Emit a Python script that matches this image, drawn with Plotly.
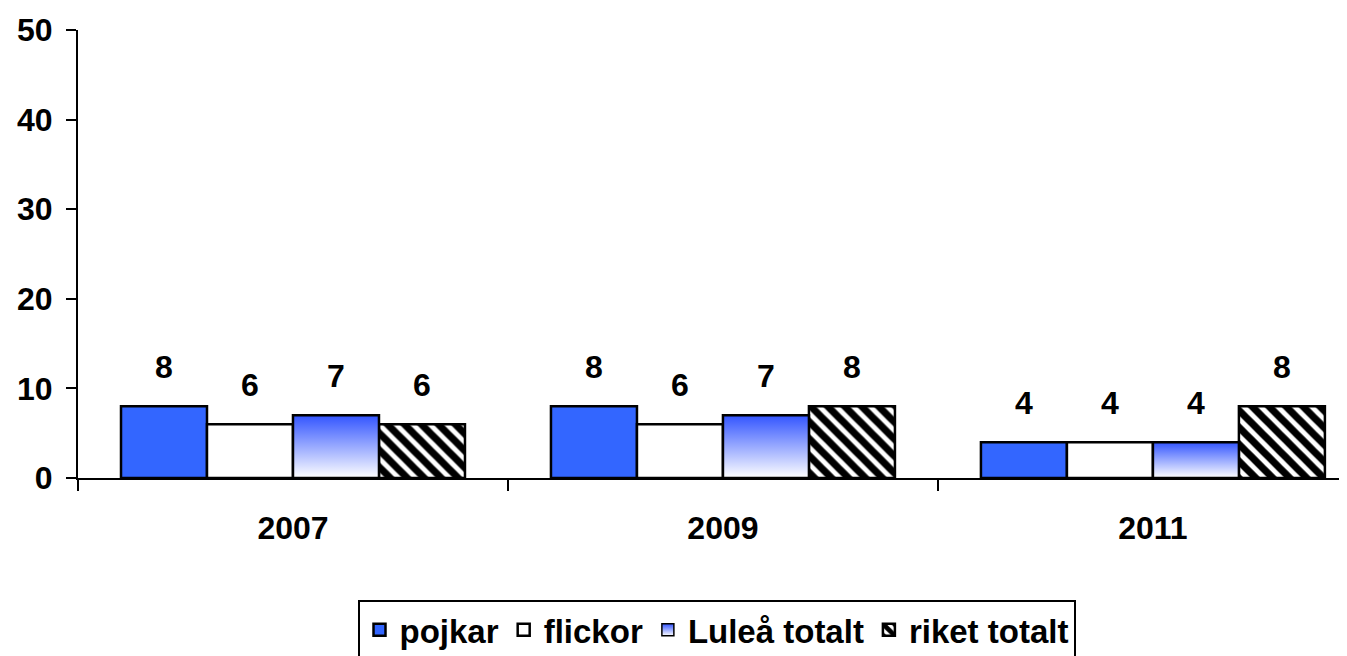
import plotly.graph_objects as go

years = ["2007", "2009", "2011"]
series_names = ["pojkar", "flickor", "Luleå totalt", "riket totalt"]
pojkar = [8, 8, 4]
flickor = [6, 6, 4]
lulea_totalt = [7, 7, 4]
riket_totalt = [6, 8, 8]
y_ticks = [0, 10, 20, 30, 40, 50]

all_series = [pojkar, flickor, lulea_totalt, riket_totalt]
xs = list(range(len(years)))
n = len(all_series)
group = 0.8
bw = group / n
offsets = [-group / 2 + bw * (i + 0.5) for i in range(n)]

FONT = "Liberation Sans, Arial, sans-serif"
BLUE = "#3366FF"
GRAD_TOP = "#3355FF"
LINE = dict(color="black", width=2.5)

fig = go.Figure()

fig.add_trace(go.Bar(x=xs, y=pojkar, name=series_names[0], marker=dict(color=BLUE, line=LINE), legendrank=1))
fig.add_trace(go.Bar(x=xs, y=flickor, name=series_names[1], marker=dict(color="white", line=LINE), legendrank=2))
fig.add_trace(go.Bar(x=xs, y=lulea_totalt, name=series_names[2],
                     marker=dict(color="rgba(0,0,0,0)", line=dict(width=0)), showlegend=False))
fig.add_trace(go.Bar(x=xs, y=riket_totalt, name=series_names[3], legendrank=4,
                     marker=dict(color="white", line=LINE,
                                 pattern=dict(shape="\\", fgcolor="black", bgcolor="white",
                                              fgopacity=1, size=12, solidity=0.6))))

# gradient-filled bars for "Luleå totalt" (same slots as the grouped bar above)
for xc, v in zip(xs, lulea_totalt):
    x0 = xc + offsets[2] - bw / 2
    x1 = xc + offsets[2] + bw / 2
    fig.add_trace(go.Scatter(
        x=[x0, x0, x1, x1, x0], y=[0, v, v, 0, 0], mode="lines", fill="toself",
        line=dict(color="black", width=2.5),
        fillgradient=dict(type="vertical", colorscale=[[0, "white"], [1, GRAD_TOP]]),
        name=series_names[2], legendgroup="lulea", showlegend=False, hoverinfo="skip"))

# legend entry for the gradient series
fig.add_trace(go.Scatter(
    x=[None], y=[None], mode="markers", name=series_names[2], legendgroup="lulea", legendrank=3,
    marker=dict(symbol="square", size=12, color=GRAD_TOP,
                gradient=dict(type="vertical", color="white"),
                line=dict(color="black", width=1.5))))

annotations = []
for i, s in enumerate(all_series):
    for xc, v in zip(xs, s):
        annotations.append(dict(x=xc + offsets[i], y=v, text=str(v), showarrow=False,
                                yanchor="bottom", yshift=19,
                                font=dict(family=FONT, size=32, color="black", weight="bold")))

fig.update_layout(
    width=1347, height=656,
    margin=dict(l=70, r=0, t=22, b=186),
    paper_bgcolor="white", plot_bgcolor="white",
    barmode="group", bargap=0.2, bargroupgap=0,
    font=dict(family=FONT, size=32, color="black", weight="bold"),
    annotations=annotations,
    showlegend=True,
    legend=dict(orientation="h", x=0.5, xanchor="center", y=-0.272, yanchor="top",
                bordercolor="black", borderwidth=2, bgcolor="white",
                font=dict(family=FONT, size=33, color="black", weight="bold"),
                traceorder="normal", itemwidth=30),
)
fig.update_xaxes(range=[-0.5, 2.47], tickmode="array", tickvals=xs, ticktext=years,
                 ticks="", showline=True, linecolor="black", linewidth=2,
                 showgrid=False, zeroline=False, ticklabelstandoff=21,
                 minor=dict(tickmode="array", tickvals=[-0.5, 0.5, 1.5, 2.5], ticks="outside",
                            ticklen=11, tickwidth=2, tickcolor="black", showgrid=False),
                 tickfont=dict(family=FONT, size=32, color="black", weight="bold"))
fig.update_yaxes(range=[0, 50], tickmode="array", tickvals=y_ticks, ticks="outside",
                 ticklen=10, tickwidth=2, tickcolor="black", showline=True, linecolor="black",
                 linewidth=2, showgrid=False, zeroline=False, ticklabelstandoff=7,
                 tickfont=dict(family=FONT, size=32, color="black", weight="bold"))

fig.write_html("out.html")
